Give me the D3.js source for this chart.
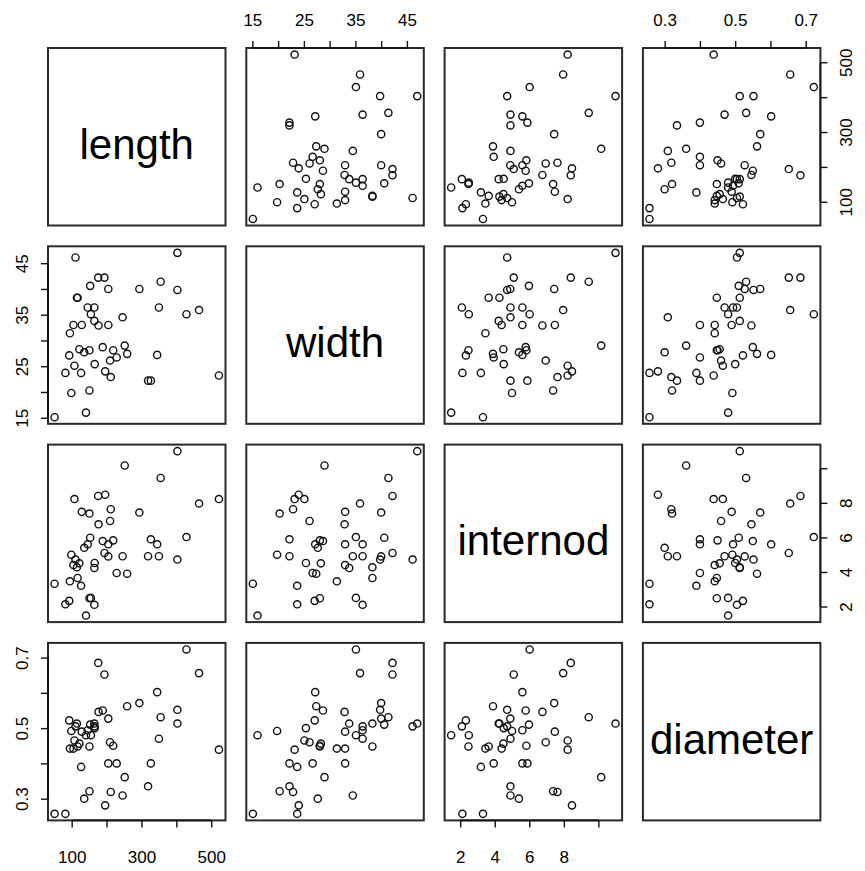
<!DOCTYPE html>
<html>
<head>
<meta charset="utf-8">
<script src="https://cdn.jsdelivr.net/npm/d3@7"></script>
<style>
  html, body { margin: 0; padding: 0; background: #fff; }
  svg { display: block; }
  text { font-family: "Liberation Sans", Arial, Helvetica, sans-serif; fill: #000; }
  .tick text { font-family: "Liberation Sans Narrow", "Liberation Sans", Arial, sans-serif; }
</style>
</head>
<body>
<svg id="chart" width="865" height="871"></svg>
<script>
// ---- data (one row per plant) ----
const varNames = ["length", "width", "internod", "diameter"];
const lengthVals   = [403, 403, 355, 350, 465, 522, 429, 252, 345, 294, 176, 194, 196, 108, 129, 151, 212, 210, 177, 153, 327, 319, 51, 82, 141, 111, 93, 151, 165, 155, 127, 95, 117, 99, 105, 122, 136, 146, 189, 205, 205, 219, 246, 229, 259, 166, 165, 115];
const widthVals    = [47.0, 39.8, 41.4, 36.4, 35.9, 23.2, 35.1, 29.0, 27.2, 40.0, 42.2, 42.2, 24.0, 25.1, 33.0, 20.3, 22.9, 26.1, 32.9, 40.6, 22.2, 22.2, 15.1, 23.7, 16.0, 46.1, 27.1, 28.1, 36.4, 35.1, 23.7, 31.4, 38.3, 19.8, 33.0, 28.3, 27.7, 36.4, 28.7, 33.0, 40.0, 28.1, 34.5, 26.7, 27.4, 25.4, 33.8, 38.3];
const internodVals = [10.99, 4.72, 9.44, 4.91, 7.96, 8.22, 6.02, 10.16, 5.6, 7.44, 8.4, 5.1, 8.47, 8.22, 7.48, 7.38, 7.63, 6.95, 6.76, 5.98, 5.89, 4.91, 3.32, 2.13, 1.48, 4.72, 2.33, 2.48, 2.1, 2.5, 3.2, 3.46, 3.65, 5.0, 4.4, 4.5, 5.4, 5.6, 5.79, 5.6, 4.9, 5.83, 4.91, 3.94, 3.9, 4.52, 4.23, 4.27];
const diameterVals = [0.513, 0.552, 0.531, 0.47, 0.656, 0.439, 0.723, 0.361, 0.602, 0.571, 0.685, 0.652, 0.281, 0.465, 0.49, 0.321, 0.319, 0.46, 0.546, 0.51, 0.40, 0.335, 0.257, 0.257, 0.48, 0.505, 0.522, 0.448, 0.505, 0.48, 0.39, 0.442, 0.448, 0.492, 0.442, 0.456, 0.30, 0.494, 0.55, 0.40, 0.527, 0.45, 0.309, 0.40, 0.562, 0.50, 0.513, 0.513];

// ---- axis ticks and labels ----
const lengthTicks = [100, 200, 300, 400, 500];
const lengthTickLabels = ["100", "", "300", "", "500"];
const widthTicks = [15, 20, 25, 30, 35, 40, 45];
const widthTickLabels = ["15", "", "25", "", "35", "", "45"];
const internodTicks = [2, 4, 6, 8, 10];
const internodTickLabels = ["2", "4", "6", "8", ""];
const diameterTicks = [0.3, 0.4, 0.5, 0.6, 0.7];
const diameterTickLabels = ["0.3", "", "0.5", "", "0.7"];

const columns = [lengthVals, widthVals, internodVals, diameterVals];
const ticksFor = [lengthTicks, widthTicks, internodTicks, diameterTicks];
const labelsFor = [lengthTickLabels, widthTickLabels, internodTickLabels, diameterTickLabels];

// ---- layout ----
const x0 = 48, y0 = 48, step = 198.3, size = 177.5;
const svg = d3.select("#chart");

function paddedDomain(vals) {
  const [lo, hi] = d3.extent(vals);
  const pad = (hi - lo) * 0.04;
  return [lo - pad, hi + pad];
}
const xScales = columns.map(v => d3.scaleLinear().domain(paddedDomain(v)).range([0, size]));
const yScales = columns.map(v => d3.scaleLinear().domain(paddedDomain(v)).range([size, 0]));

const n = lengthVals.length;
const rows = d3.range(n).map(i => columns.map(c => c[i]));

for (let r = 0; r < 4; r++) {
  for (let c = 0; c < 4; c++) {
    const g = svg.append("g").attr("transform", `translate(${x0 + c * step},${y0 + r * step})`);
    if (r === c) {
      g.append("text")
        .attr("x", size / 2).attr("y", size / 2 + 22)
        .attr("text-anchor", "middle")
        .style("font-size", "42px")
        .attr("fill", "#1a1a1a")
        .text(varNames[r]);
    } else {
      g.selectAll("circle").data(rows).join("circle")
        .attr("cx", d => xScales[c](d[c]))
        .attr("cy", d => yScales[r](d[r]))
        .attr("r", 3.6)
        .attr("fill", "none")
        .attr("stroke", "#111")
        .attr("stroke-width", 1.4);
    }
    g.append("rect").attr("x", 0).attr("y", 0).attr("width", size).attr("height", size)
      .attr("fill", "none").attr("stroke", "#2a2a2a").attr("stroke-width", 2);
  }
}

function styleAxis(g, scale, ticks, horizontal) {
  g.select(".domain").remove();
  g.selectAll(".tick line").attr("stroke", "#111").attr("stroke-width", 1.4);
  const a = scale(ticks[0]), b = scale(ticks[ticks.length - 1]);
  g.append("line")
    .attr(horizontal ? "x1" : "y1", a).attr(horizontal ? "x2" : "y2", b)
    .attr(horizontal ? "y1" : "x1", 0).attr(horizontal ? "y2" : "x2", 0)
    .attr("stroke", "#111").attr("stroke-width", 1.6);
  g.selectAll(".tick text").style("font-size", "17px").attr("fill", "#111");
}

for (let k = 0; k < 4; k++) {
  const ticks = ticksFor[k], labs = labelsFor[k];
  const fmt = (d, i) => labs[i];
  if (k % 2 === 1) {
    // top axis on first row
    const g = svg.append("g").attr("transform", `translate(${x0 + k * step},${y0})`)
      .call(d3.axisTop(xScales[k]).tickValues(ticks).tickFormat(fmt).tickSize(7).tickPadding(15));
    styleAxis(g, xScales[k], ticks, true);
    g.attr("font-family", null);
    // left axis on first column
    const gl = svg.append("g").attr("transform", `translate(${x0},${y0 + k * step})`)
      .call(d3.axisLeft(yScales[k]).tickValues(ticks).tickFormat(fmt).tickSize(7));
    styleAxis(gl, yScales[k], ticks, false);
    gl.attr("font-family", null);
    gl.selectAll(".tick text")
      .attr("x", null).attr("dy", null).attr("text-anchor", "middle")
      .attr("transform", "translate(-20,0) rotate(-90)");
  } else {
    // bottom axis on last row
    const g = svg.append("g").attr("transform", `translate(${x0 + k * step},${y0 + 3 * step + size})`)
      .call(d3.axisBottom(xScales[k]).tickValues(ticks).tickFormat(fmt).tickSize(7));
    styleAxis(g, xScales[k], ticks, true);
    g.attr("font-family", null);
    g.selectAll(".tick text").attr("dy", null).attr("y", 43);
    // right axis on last column
    const gr = svg.append("g").attr("transform", `translate(${x0 + 3 * step + size},${y0 + k * step})`)
      .call(d3.axisRight(yScales[k]).tickValues(ticks).tickFormat(fmt).tickSize(7));
    styleAxis(gr, yScales[k], ticks, false);
    gr.attr("font-family", null);
    gr.selectAll(".tick text")
      .attr("x", null).attr("dy", null).attr("text-anchor", "middle")
      .attr("transform", "translate(32,0) rotate(-90)");
  }
}
</script>
</body>
</html>
